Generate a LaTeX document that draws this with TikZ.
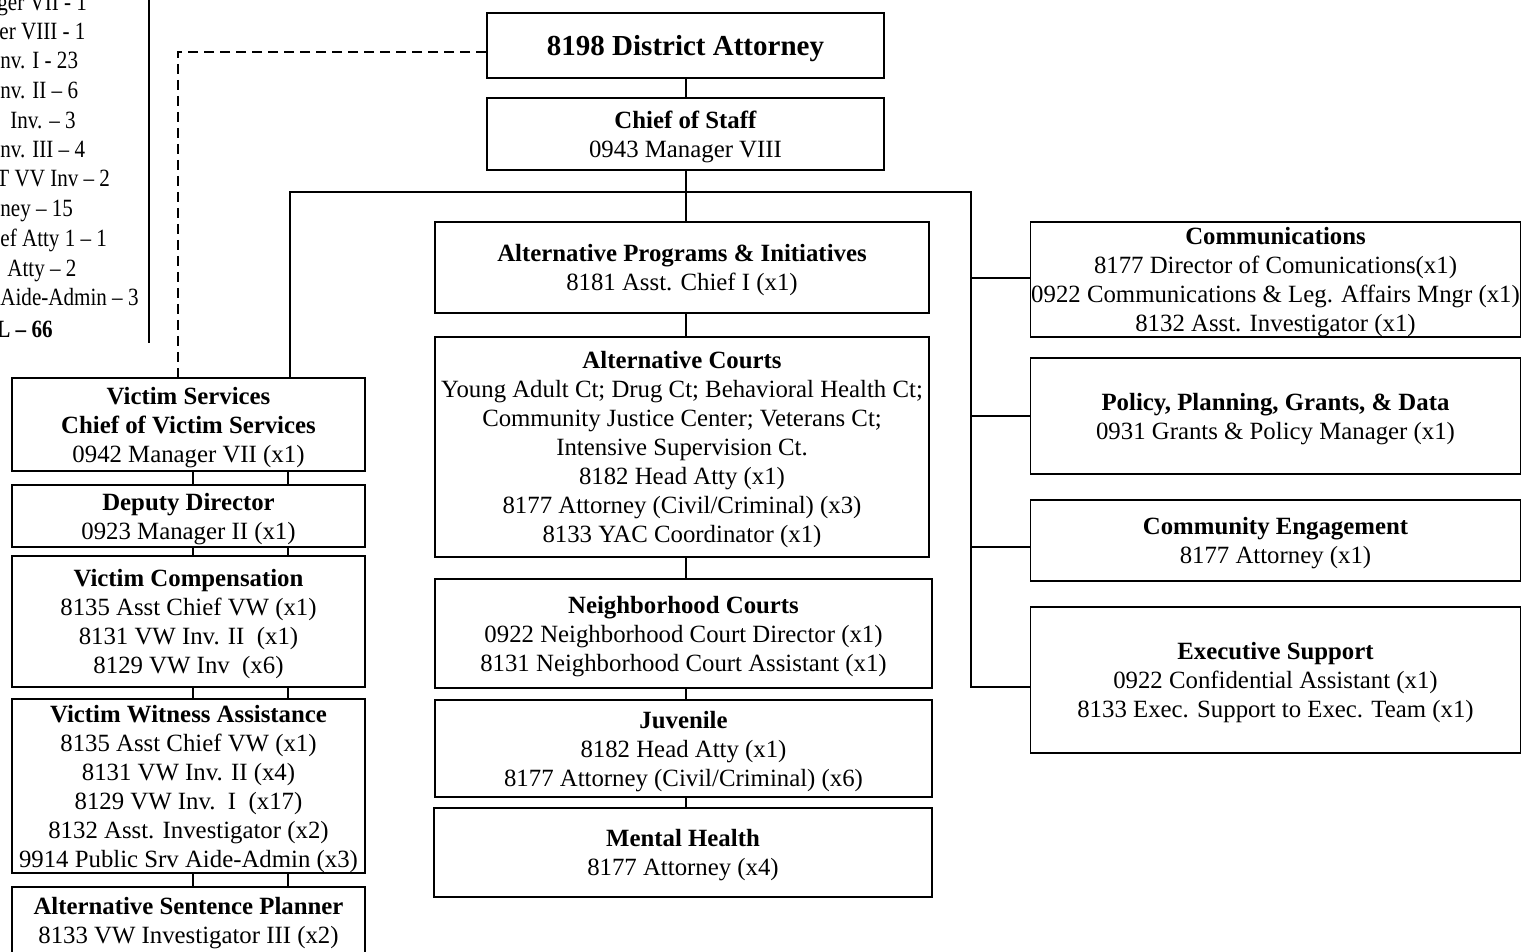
\documentclass[tikz,border=0pt]{standalone}
\usepackage{fontspec}
\setmainfont{Liberation Serif}
\begin{document}
\begin{tikzpicture}[x=0.5pt,y=-0.5pt,
  box/.style={draw, line width=0.8pt, inner sep=0pt, align=center, text depth=0pt,
    execute at begin node={\rule{0pt}{10.5pt}},
    font=\fontsize{12.4}{14.5}\selectfont},
  conn/.style={line width=1pt},
  leg/.style={anchor=base west, inner sep=0pt, font=\fontsize{12.4}{14.5}\selectfont}]
\useasboundingbox (0,0) rectangle (1521,952);

% legend (cropped at the left edge)
\newcommand{\lgtxt}[1]{\scalebox{0.85}[1]{#1}}
\draw[line width=0.6pt] (149,0) -- (149,343);
\node[leg] (l1) at (-3,11) {\lgtxt{ger VII - 1}};
\node[leg] (l2) at (-1,40) {\lgtxt{er VIII - 1}};
\node[leg] (l3) at (0,69) {\lgtxt{nv. I - 23}};
\node[leg] (l4) at (0,99) {\lgtxt{nv. II -- 6}};
\node[leg] (l5) at (10,129) {\lgtxt{Inv. -- 3}};
\node[leg] (l6) at (0,158) {\lgtxt{nv. III -- 4}};
\node[leg] (l7) at (-4,187) {\lgtxt{T VV Inv -- 2}};
\node[leg] (l8) at (0,217) {\lgtxt{ney -- 15}};
\node[leg] (l9) at (0,247) {\lgtxt{ef Atty 1 -- 1}};
\node[leg] (l10) at (7,277) {\lgtxt{Atty -- 2}};
\node[leg] (l11) at (0,306) {\lgtxt{Aide-Admin -- 3}};
\node[leg] (l12) at (-4,337) {\lgtxt{\textbf{L -- 66}}};

% centre column
\node[box, minimum width=198.5pt, minimum height=32.5pt] (da) at (685.5,45.5) {\fontsize{14.5}{16}\selectfont\textbf{8198 District Attorney}};
\node[box, minimum width=198.5pt, minimum height=36pt] (cos) at (685.5,134) {\textbf{Chief of Staff}\\0943 Manager VIII};
\node[box, minimum width=247pt, minimum height=45.5pt] (api) at (682,267.5) {\textbf{Alternative Programs \& Initiatives}\\8181 Asst. Chief I (x1)};
\node[box, minimum width=247pt, minimum height=110pt] (altc) at (682,447) {\textbf{Alternative Courts}\\Young Adult Ct; Drug Ct; Behavioral Health Ct;\\Community Justice Center; Veterans Ct;\\Intensive Supervision Ct.\\8182 Head Atty (x1)\\8177 Attorney (Civil/Criminal) (x3)\\8133 YAC Coordinator (x1)};
\node[box, minimum width=248.5pt, minimum height=54.5pt] (nc) at (683.5,633.5) {\textbf{Neighborhood Courts}\\0922 Neighborhood Court Director (x1)\\8131 Neighborhood Court Assistant (x1)};
\node[box, minimum width=248.5pt, minimum height=48.5pt] (juv) at (683.5,748.5) {\textbf{Juvenile}\\8182 Head Atty (x1)\\8177 Attorney (Civil/Criminal) (x6)};
\node[box, minimum width=249pt, minimum height=44.5pt] (mh) at (683,852.5) {\textbf{Mental Health}\\8177 Attorney (x4)};

% right column
\node[box, minimum width=245pt, minimum height=57.5pt] (comm) at (1275.5,279.5) {\textbf{Communications}\\8177 Director of Comunications(x1)\\0922 Communications \& Leg. Affairs Mngr (x1)\\8132 Asst. Investigator (x1)};
\node[box, minimum width=245pt, minimum height=58pt] (pol) at (1275.5,416) {\textbf{Policy, Planning, Grants, \& Data}\\0931 Grants \& Policy Manager (x1)};
\node[box, minimum width=245pt, minimum height=40.5pt] (ce) at (1275.5,540.5) {\textbf{Community Engagement}\\8177 Attorney (x1)};
\node[box, minimum width=245pt, minimum height=73pt] (exs) at (1275.5,680) {\textbf{Executive Support}\\0922 Confidential Assistant (x1)\\8133 Exec. Support to Exec. Team (x1)};

% left column
\node[box, minimum width=176.5pt, minimum height=46.5pt] (vs) at (188.5,424.5) {\textbf{Victim Services}\\\textbf{Chief of Victim Services}\\0942 Manager VII (x1)};
\node[box, minimum width=176.5pt, minimum height=31pt] (dd) at (188.5,516) {\textbf{Deputy Director}\\0923 Manager II (x1)};
\node[box, minimum width=176.5pt, minimum height=65.5pt] (vc) at (188.5,621.5) {\textbf{Victim Compensation}\\8135 Asst Chief VW (x1)\\8131 VW Inv. II\ \ (x1)\\8129 VW Inv\ \ (x6)};
\node[box, minimum width=176.5pt, minimum height=87pt] (vwa) at (188.5,786) {\textbf{Victim Witness Assistance}\\8135 Asst Chief VW (x1)\\8131 VW Inv. II (x4)\\8129 VW Inv.\ \ I\ \ (x17)\\8132 Asst. Investigator (x2)\\9914 Public Srv Aide-Admin (x3)};
\node[box, minimum width=176.5pt, minimum height=33pt] (asp) at (188.5,920) {\textbf{Alternative Sentence Planner}\\8133 VW Investigator III (x2)};

% coordinates
\coordinate (c1) at (193,0);
\coordinate (c2) at (288,0);
\coordinate (cx) at (686,0);
\coordinate (lx) at (290,192);
\coordinate (rx) at (971,192);
\coordinate (dl) at (178,52);

% connectors
\draw[conn] (da.south -| cx) -- (cos.north -| cx);
\draw[conn] (cos.south -| cx) -- (api.north -| cx);
\draw[conn] (api.south -| cx) -- (altc.north -| cx);
\draw[conn] (altc.south -| cx) -- (nc.north -| cx);
\draw[conn] (nc.south -| cx) -- (juv.north -| cx);
\draw[conn] (juv.south -| cx) -- (mh.north -| cx);
\draw[line width=1.2pt] (vs.north -| lx) -- (lx) -- (rx) -- (rx |- 0,687) -- (exs.west |- 0,687);
\draw[conn] (rx |- 0,278) -- (comm.west |- 0,278);
\draw[conn] (rx |- 0,416) -- (pol.west |- 0,416);
\draw[conn] (rx |- 0,547) -- (ce.west |- 0,547);
\foreach \a/\b in {vs/dd, dd/vc, vc/vwa, vwa/asp}{
  \draw[conn] (\a.south -| c1) -- (\b.north -| c1);
  \draw[conn] (\a.south -| c2) -- (\b.north -| c2);
}
\draw[line width=1pt, dash pattern=on 5pt off 3pt] (da.west |- dl) -- (dl) -- (vs.north -| dl);
\end{tikzpicture}
\end{document}
